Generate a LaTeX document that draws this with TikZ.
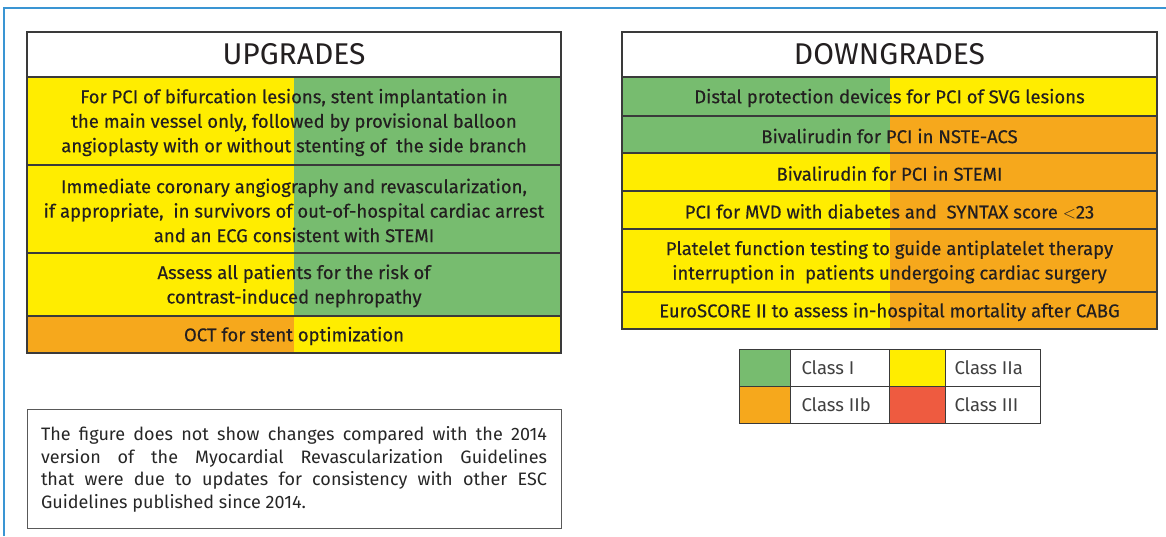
\documentclass[tikz,border=0pt]{standalone}
\usepackage{fontspec}
\setmainfont{Fira Sans}
\newfontfamily\rowfont{Fira Sans}[FakeBold=0.35]
\usetikzlibrary{positioning}
\definecolor{classI}{HTML}{77BC6F}
\definecolor{classIIa}{HTML}{FFED00}
\definecolor{classIIb}{HTML}{F6A81C}
\definecolor{classIII}{HTML}{EE5B40}
\definecolor{frameblue}{HTML}{3A95D3}
\definecolor{rowline}{HTML}{3A3A3A}
\definecolor{ink}{HTML}{231F20}

\begin{document}
\begin{tikzpicture}[x=1pt, y=-1pt,
      cell/.style={draw=rowline, line width=1.2pt},
      headtext/.style={font=\fontsize{30}{34}\selectfont, text=ink},
      rowtext/.style={align=center, font=\rowfont\fontsize{18.5}{24.5}\selectfont, text=ink, yshift=-1.5pt},
      legtext/.style={font=\fontsize{18.5}{22}\selectfont, text=black!75}]
      \useasboundingbox (0,0) rectangle (1166,536);
      \draw[frameblue, line width=2pt] (4,536) -- (4,8) -- (1166,8);

      % upgrades
      \draw[cell, fill=white] (27,32) rectangle (561,77) node (uphead) [pos=.5, headtext] {UPGRADES};
      \foreach \ya/\yb/\colL/\colR/\nm/\txt in {
            77/165/classIIa/classI/upa/{For PCI of bifurcation lesions, stent implantation in\\the main vessel only, followed by provisional balloon\\angioplasty with or without stenting of\ \ the side branch},
            165/253/classIIa/classI/upb/{Immediate coronary angiography and revascularization,\\if appropriate,\ \ in survivors of out-of-hospital cardiac arrest\\and an ECG consistent with STEMI},
            253/316/classIIa/classI/upc/{Assess all patients for the risk of\\contrast-induced nephropathy},
            316/353/classIIb/classIIa/upd/{OCT for stent optimization}} {
            \fill[\colL] (27,\ya) rectangle (294,\yb);
            \fill[\colR] (294,\ya) rectangle (561,\yb);
            \draw[cell] (27,\ya) rectangle (561,\yb) node (\nm) [pos=.5, rowtext] {\txt};
      }

      % downgrades
      \draw[cell, fill=white] (622,32) rectangle (1157,77) node (downhead) [pos=.5, headtext] {DOWNGRADES};
      \foreach \ya/\yb/\colL/\colR/\nm/\txt in {
            77/116/classI/classIIa/downa/{Distal protection devices for PCI of SVG lesions},
            116/153/classI/classIIb/downb/{Bivalirudin for PCI in NSTE-ACS},
            153/191/classIIa/classIIb/downc/{Bivalirudin for PCI in STEMI},
            191/229/classIIa/classIIb/downd/{PCI for MVD with diabetes and\ \ SYNTAX score $<$23},
            229/292/classIIa/classIIb/downe/{Platelet function testing to guide antiplatelet therapy\\interruption in\ \ patients undergoing cardiac surgery},
            292/329/classIIa/classIIb/downf/{EuroSCORE II to assess in-hospital mortality after CABG}} {
            \fill[\colL] (622,\ya) rectangle (890,\yb);
            \fill[\colR] (890,\ya) rectangle (1157,\yb);
            \draw[cell] (622,\ya) rectangle (1157,\yb) node (\nm) [pos=.5, rowtext] {\txt};
      }

      % legend
      \foreach \xa/\xb/\ya/\yb/\col in {739/790/349/386/classI, 889/945/349/386/classIIa,
            739/790/386/423/classIIb, 889/945/386/423/classIII}
            \fill[\col] (\xa,\ya) rectangle (\xb,\yb);
      \draw[rowline, line width=1pt] (739,349) rectangle (1040,423)
            (739,386) -- (1040,386) (790,349) -- (790,423)
            (889,349) -- (889,423) (945,349) -- (945,423);
      \node (lgI) [legtext, anchor=west] at (798,367.5) {Class I};
      \node (lgIIa) [legtext, anchor=west] at (951,367.5) {Class IIa};
      \node (lgIIb) [legtext, anchor=west] at (798,404.5) {Class IIb};
      \node (lgIII) [legtext, anchor=west] at (951,404.5) {Class III};

      % note
      \draw[black!65, line width=1pt] (27,409) rectangle (561,528);
      \node (note) [text width=506pt, align=justify, inner sep=0pt, text=black!85,
            font=\fontsize{18}{22.5}\selectfont] at (294,469.5)
            {The figure does not show changes compared with the 2014\linebreak
             version of the Myocardial Revascularization Guidelines\linebreak
             that were due to updates for consistency with other ESC\linebreak
             Guidelines published since 2014.};
\end{tikzpicture}
\end{document}
